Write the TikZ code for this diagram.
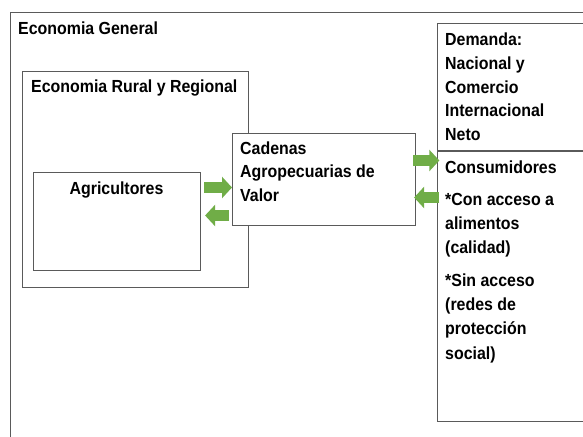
\documentclass[tikz,border=0pt]{standalone}
\usepackage{fontspec}
\setmainfont{Liberation Sans}[FakeStretch=0.91]
\usetikzlibrary{arrows.meta}
\definecolor{boxline}{HTML}{5A5A5A}
\definecolor{agreen}{HTML}{70AD47}
\tikzset{
  frame/.style={draw=boxline, line width=1.1pt, fill=white, inner sep=0pt, anchor=north west},
  label/.style={inner sep=0pt, anchor=base west, font=\fontsize{17.5}{24}\selectfont\bfseries},
  garrow/.style={draw=agreen, line width=11pt, -{Triangle[length=10pt,width=21pt]}},
}
\begin{document}
\begin{tikzpicture}[x=1pt,y=-1pt]
\useasboundingbox (0,0) rectangle (583,436);
\clip (0,0) rectangle (583,436);
\fill[white] (0,0) rectangle (583,436);
% outer box
\node[frame, minimum width=600pt, minimum height=450pt] (gen) at (10,12) {};
\node[label] (genT) at (18,35) {Economia General};
% rural box
\node[frame, minimum width=226pt, minimum height=216pt] (rur) at (22,70.5) {};
\node[label] (rurT) at (31,92) {Economia Rural y Regional};
% agricultores
\node[frame, minimum width=167pt, minimum height=98pt] (agr) at (33,172) {};
\node[label, anchor=base] (agrT) at (116.5,194) {Agricultores};
% cadenas
\node[frame, minimum width=183pt, minimum height=92pt] (cad) at (232,133) {};
\node[label] (cadT) at (240,154) {\vtop{\baselineskip=23.8pt\hbox{Cadenas}\hbox{Agropecuarias de}\hbox{Valor}}};
% demanda
\node[frame, minimum width=170pt, minimum height=398pt] (dem) at (437.3,22.7) {};
\draw[boxline, line width=1.1pt] (dem.west |- 0,151) coordinate (divL) -- (divL -| dem.east);
\node[label] (demT) at (445,45.5) {\vtop{\baselineskip=23.8pt\hbox{Demanda:}\hbox{Nacional y}\hbox{Comercio}\hbox{Internacional}\hbox{Neto}}};
\node[label] (conT) at (445,173) {\vtop{\baselineskip=24.3pt\hbox{Consumidores}\vskip 8pt\hbox{*Con acceso a}\hbox{alimentos}\hbox{(calidad)}\vskip 8pt\hbox{*Sin acceso}\hbox{(redes de}\hbox{protección}\hbox{social)}}};
% arrows
\draw[garrow] ([xshift=3pt]agr.east |- 0,187.5) -- ([xshift=0pt]cad.west |- 0,187.5);
\draw[garrow] ([xshift=-3pt]cad.west |- 0,215.5) -- ([xshift=4pt]agr.east |- 0,215.5);
\draw[garrow] ([xshift=-3pt]cad.east |- 0,160.5) -- ([xshift=2pt]dem.west |- 0,160.5);
\draw[garrow] ([xshift=2pt]dem.west |- 0,197.5) -- ([xshift=-2pt]cad.east |- 0,197.5);
\end{tikzpicture}
\end{document}
